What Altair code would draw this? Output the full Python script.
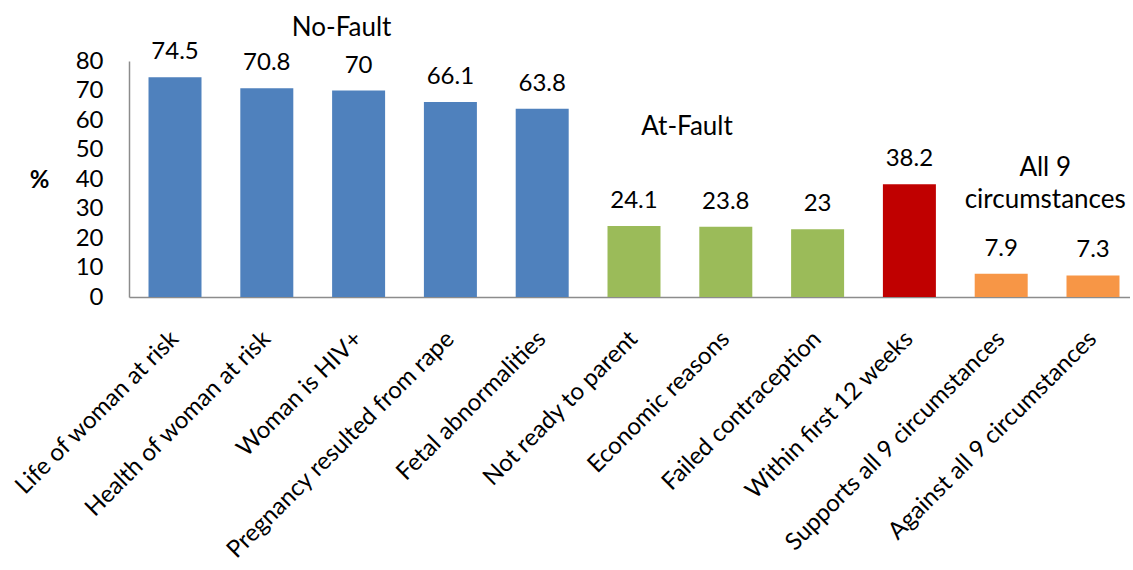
import altair as alt
import pandas as pd

# Support for legal abortion by circumstance (%)
categories = [
    "Life of woman at risk",
    "Health of woman at risk",
    "Woman is HIV+",
    "Pregnancy resulted from rape",
    "Fetal abnormalities",
    "Not ready to parent",
    "Economic reasons",
    "Failed contraception",
    "Within first 12 weeks",
    "Supports all 9 circumstances",
    "Against all 9 circumstances",
]
values = [74.5, 70.8, 70, 66.1, 63.8, 24.1, 23.8, 23, 38.2, 7.9, 7.3]
groups = ["No-Fault"] * 5 + ["At-Fault"] * 3 + ["Timing"] + ["All 9"] * 2

group_names = ["No-Fault", "At-Fault", "Timing", "All 9"]
group_colors = ["#4F81BD", "#9BBB59", "#C00000", "#F79646"]

y_ticks = [0, 10, 20, 30, 40, 50, 60, 70, 80]

# Group headings: text, bar they sit next to, height on the % scale, horizontal nudge
heading_text = [["No-Fault"], ["At-Fault"], ["All 9", "circumstances"]]
heading_anchor = ["Woman is HIV+", "Not ready to parent", "Supports all 9 circumstances"]
heading_level = [91.2, 57.6, 43.7]
heading_dx = [-17, 53, 44]

FONT = "Lato"
SIZE = 24

df = pd.DataFrame({"category": categories, "value": values, "group": groups})
df["label"] = [f"{v:g}" for v in values]

x_enc = alt.X(
    "category:N",
    sort=categories,
    scale=alt.Scale(domain=categories, paddingInner=0.4227, paddingOuter=0.1635, align=0.65),
    axis=alt.Axis(
        title=None,
        labelAngle=-45,
        labelAlign="right",
        labelBaseline="middle",
        labelPadding=38,
        labelOverlap=False,
        ticks=False,
        labelFont=FONT,
        labelFontSize=SIZE,
        labelColor="#000000",
        labelLimit=400,
        domainColor="#8C8C8C",
        domainWidth=1.5,
    ),
)
y_enc = alt.Y(
    "value:Q",
    scale=alt.Scale(domain=[0, 80], nice=False),
    axis=alt.Axis(
        title="%",
        titleAngle=0,
        titleFont=FONT,
        titleFontSize=SIZE,
        titleFontWeight="bold",
        titleColor="#000000",
        titleX=-90,
        titleY=119,
        titleAlign="center",
        titleBaseline="middle",
        values=y_ticks,
        tickCount=len(y_ticks),
        labelOverlap=False,
        grid=False,
        ticks=False,
        labelPadding=26,
        labelFont=FONT,
        labelFontSize=SIZE,
        labelColor="#000000",
        domainColor="#8C8C8C",
        domainWidth=1.5,
    ),
)

base = alt.Chart(df)

bars = base.mark_bar().encode(
    x=x_enc,
    y=y_enc,
    color=alt.Color(
        "group:N",
        scale=alt.Scale(domain=group_names, range=group_colors),
        legend=None,
    ),
)

labels = base.mark_text(
    font=FONT, fontSize=SIZE, color="#000000", baseline="middle", dy=-25
).encode(x=x_enc, y=y_enc, text="label:N")

layers = [bars, labels]
for txt, anchor, level, dx in zip(heading_text, heading_anchor, heading_level, heading_dx):
    hdf = pd.DataFrame({"category": [anchor], "value": [level], "text": [txt]})
    layers.append(
        alt.Chart(hdf)
        .mark_text(
            font=FONT,
            fontSize=26,
            color="#000000",
            baseline="middle",
            align="center",
            dx=dx,
            lineHeight=32,
        )
        .encode(x=x_enc, y=y_enc, text="text:N")
    )

chart = (
    alt.layer(*layers)
    .properties(
        width=1001,
        height=236,
        autosize=alt.AutoSizeParams(type="none"),
        padding={"left": 129, "top": 61, "right": 0, "bottom": 270},
        background="#FFFFFF",
    )
    .configure_view(stroke=None)
)

chart.save("out.html", embed_options={"renderer": "svg", "actions": False})
